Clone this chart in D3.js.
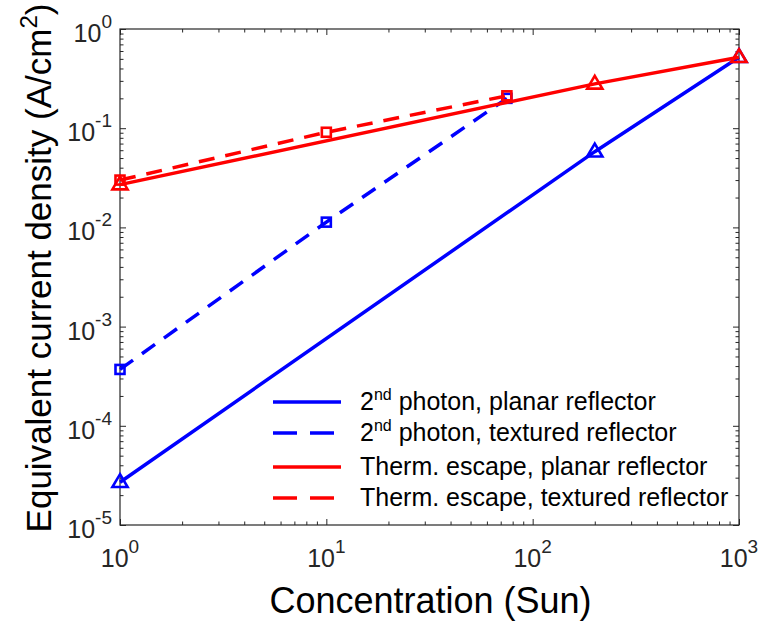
<!DOCTYPE html>
<html>
<head>
<meta charset="utf-8">
<script src="https://cdn.jsdelivr.net/npm/d3@7"></script>
<style>
  html, body { margin: 0; padding: 0; background: #fff; }
  svg { display: block; font-family: "Liberation Sans", Arial, sans-serif; }
</style>
</head>
<body>
<svg id="chart" width="763" height="626"></svg>
<script>
// ---- Data ----
const concPlanar = [1, 200, 1000];
const concTextured = [1, 10, 75];
const secondPhotonPlanar = [2.7e-5, 0.058, 0.52];
const secondPhotonTextured = [3.7e-4, 0.0113, 0.20];
const thermEscapePlanar = [0.027, 0.28, 0.52];
const thermEscapeTextured = [0.030, 0.091, 0.212];
const xTickExponents = [0, 1, 2, 3];
const yTickExponents = [-5, -4, -3, -2, -1, 0];
const legendLabels = [
  ["2", "nd", " photon, planar reflector"],
  ["2", "nd", " photon, textured reflector"],
  ["Therm. escape, planar reflector", "", ""],
  ["Therm. escape, textured reflector", "", ""]
];

const series = [
  { x: concPlanar, y: secondPhotonPlanar, color: "#0000ff", dash: null, marker: "triangle" },
  { x: concTextured, y: secondPhotonTextured, color: "#0000ff", dash: "16,11", marker: "square" },
  { x: concPlanar, y: thermEscapePlanar, color: "#ff0000", dash: null, marker: "triangle" },
  { x: concTextured, y: thermEscapeTextured, color: "#ff0000", dash: "16,11", marker: "square" }
];

// ---- Layout ----
const L = 120, R = 739, T = 29, B = 525;
const axisColor = "#262626";
const svg = d3.select("#chart");

const x = d3.scaleLog().domain([1, 1000]).range([L, R]);
const y = d3.scaleLog().domain([1e-5, 1]).range([B, T]);

const majX = xTickExponents.map(e => Math.pow(10, e));
const majY = yTickExponents.map(e => Math.pow(10, e));
const minX = x.ticks().filter(v => !majX.some(m => Math.abs(m - v) < 1e-9 * m));
const minY = y.ticks().filter(v => !majY.some(m => Math.abs(m - v) < 1e-9 * m));

function addAxis(axisFn, scale, values, size, transform) {
  const g = svg.append("g").attr("transform", transform)
    .call(axisFn(scale).tickValues(values).tickSizeInner(-size).tickSizeOuter(0).tickFormat(""));
  g.select(".domain").remove();
  g.selectAll("line").attr("stroke", axisColor).attr("stroke-width", 1);
}
// bottom / top
addAxis(d3.axisBottom, x, majX, 6, `translate(0,${B})`);
addAxis(d3.axisBottom, x, minX, 3.5, `translate(0,${B})`);
addAxis(d3.axisTop, x, majX, 6, `translate(0,${T})`);
addAxis(d3.axisTop, x, minX, 3.5, `translate(0,${T})`);
// left / right
addAxis(d3.axisLeft, y, majY, 6, `translate(${L},0)`);
addAxis(d3.axisLeft, y, minY, 3.5, `translate(${L},0)`);
addAxis(d3.axisRight, y, majY, 6, `translate(${R},0)`);
addAxis(d3.axisRight, y, minY, 3.5, `translate(${R},0)`);

// box
svg.append("rect").attr("x", L).attr("y", T).attr("width", R - L).attr("height", B - T)
  .attr("fill", "none").attr("stroke", axisColor).attr("stroke-width", 1.2);

// tick labels
xTickExponents.forEach(e => {
  const t = svg.append("text").attr("x", x(Math.pow(10, e))).attr("y", B + 42)
    .attr("text-anchor", "middle").attr("fill", axisColor).style("font-size", "25px");
  t.append("tspan").text("10");
  t.append("tspan").attr("dy", -14).style("font-size", "19px").text(String(e));
});
yTickExponents.forEach(e => {
  const t = svg.append("text").attr("x", L - 8).attr("y", y(Math.pow(10, e)) + 13)
    .attr("text-anchor", "end").attr("fill", axisColor).style("font-size", "25px");
  t.append("tspan").text("10");
  t.append("tspan").attr("dy", -14).style("font-size", "19px").text(String(e));
});

// axis titles
svg.append("text").attr("x", (L + R) / 2 + 1).attr("y", 613).attr("text-anchor", "middle")
  .attr("fill", "#000").style("font-size", "36px").text("Concentration (Sun)");
const yl = svg.append("text").attr("transform", `translate(51,${(T + B) / 2 - 9}) rotate(-90)`)
  .attr("text-anchor", "middle").attr("fill", "#000").style("font-size", "35px");
yl.append("tspan").text("Equivalent current density (A/cm");
yl.append("tspan").attr("dy", -14).style("font-size", "24px").text("2");
yl.append("tspan").attr("dy", 14).text(")");

// lines + markers
const line = d3.line().x(d => x(d[0])).y(d => y(d[1]));
function drawMarker(g, type, cx, cy, color) {
  if (type === "triangle") {
    const s = 8;
    g.append("path")
      .attr("d", `M${cx},${cy - s} L${cx + s * 0.95},${cy + s * 0.6} L${cx - s * 0.95},${cy + s * 0.6} Z`)
      .attr("fill", "none").attr("stroke", color).attr("stroke-width", 2.6);
  } else {
    const s = 4.5;
    g.append("rect").attr("x", cx - s).attr("y", cy - s).attr("width", 2 * s).attr("height", 2 * s)
      .attr("fill", "none").attr("stroke", color).attr("stroke-width", 2.6);
  }
}
series.forEach(s => {
  const g = svg.append("g");
  const pts = s.x.map((v, i) => [v, s.y[i]]);
  g.append("path").attr("d", line(pts)).attr("fill", "none").attr("stroke", s.color)
    .attr("stroke-width", 3.5).attr("stroke-dasharray", s.dash);
  pts.forEach(p => drawMarker(g, s.marker, x(p[0]), y(p[1]), s.color));
});

// legend
const legY = [402, 433, 467, 498];
series.forEach((s, i) => {
  svg.append("line").attr("x1", 273).attr("x2", 341).attr("y1", legY[i]).attr("y2", legY[i])
    .attr("stroke", s.color).attr("stroke-width", 3.5).attr("stroke-dasharray", s.dash ? "24,13" : null);
  const t = svg.append("text").attr("x", 360).attr("y", legY[i] + 8).attr("fill", "#000")
    .style("font-size", "25px");
  const lab = legendLabels[i];
  t.append("tspan").text(lab[0]);
  if (lab[1]) {
    t.append("tspan").attr("dy", -10).style("font-size", "16px").text(lab[1]);
    t.append("tspan").attr("dy", 10).text(lab[2]);
  }
});
</script>
</body>
</html>
